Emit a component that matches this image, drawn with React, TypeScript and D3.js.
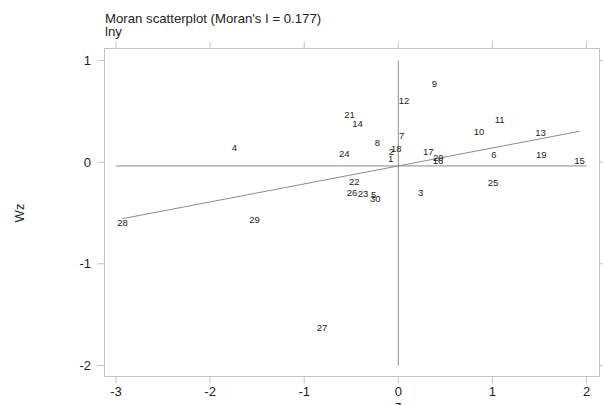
import React from "react";
import * as d3 from "d3";

const ids = [1, 2, 3, 4, 5, 6, 7, 8, 9, 10, 11, 12, 13, 14, 15, 16, 17, 18, 19, 20, 21, 22, 23, 24, 25, 26, 27, 28, 29, 30];
const zValues = [-0.082, -0.074, 0.237, -1.743, -0.262, 1.017, 0.035, -0.223, 0.383, 0.857, 1.077, 0.06, 1.512, -0.433, 1.927, 0.422, 0.319, -0.021, 1.52, 0.425, -0.518, -0.468, -0.375, -0.574, 1.006, -0.492, -0.811, -2.93, -1.527, -0.244];
const wzValues = [0.009, 0.074, -0.325, 0.117, -0.345, 0.042, 0.229, 0.163, 0.739, 0.271, 0.393, 0.576, 0.265, 0.351, -0.014, -0.017, 0.074, 0.108, 0.049, 0.019, 0.441, -0.224, -0.342, 0.058, -0.236, -0.325, -1.656, -0.624, -0.597, -0.384];
const xTicks = [-3, -2, -1, 0, 1, 2];
const yTicks = [-2, -1, 0, 1];
const moranI = 0.177;
const titleText = "Moran scatterplot (Moran's I = 0.177)";
const subtitleText = "lny";
const xLabel = "z";
const yLabel = "Wz";

export default function App() {
  const W = 603, H = 405;
  const frame = { left: 104.5, right: 599.5, top: 48.5, bottom: 376.5 };
  const x = d3.scaleLinear().domain([-3, 2]).range([116, 586.5]);
  const y = d3.scaleLinear().domain([-2, 1]).range([365.5, 60.5]);
  const meanZ = d3.mean(zValues) as number;
  const meanWz = d3.mean(wzValues) as number;
  const zMin = d3.min(zValues) as number;
  const zMax = d3.max(zValues) as number;
  const fit = (z: number) => meanWz + moranI * (z - meanZ);
  const lineGen = d3.line<number>().x((d) => x(d)).y((d) => y(fit(d)));
  const font = "'Liberation Sans', Arial, sans-serif";
  const frameColor = "#c4c4c4";
  const lineColor = "#8c8c8c";
  const textColor = "#222";
  return (
    <svg width={W} height={H} style={{ position: "absolute", left: 0, top: 0, background: "#fff" }} fontFamily={font}>
      <rect x={frame.left} y={frame.top} width={frame.right - frame.left} height={frame.bottom - frame.top} fill="none" stroke={frameColor} strokeWidth={1} />
      {xTicks.map((t) => (
        <g key={"xt" + t}>
          <line x1={x(t)} x2={x(t)} y1={frame.bottom} y2={frame.bottom + 7} stroke={frameColor} />
          <line x1={x(t)} x2={x(t)} y1={frame.top} y2={frame.top - 7} stroke={frameColor} />
          <text x={x(t)} y={396} textAnchor="middle" fontSize={13} fill={textColor}>{t}</text>
        </g>
      ))}
      {yTicks.map((t) => (
        <g key={"yt" + t}>
          <line x1={frame.left} x2={frame.left - 7} y1={y(t)} y2={y(t)} stroke={frameColor} />
          <line x1={frame.right} x2={frame.right + 7} y1={y(t)} y2={y(t)} stroke={frameColor} />
          <text x={91} y={y(t)} dy="0.35em" textAnchor="end" fontSize={13} fill={textColor}>{t}</text>
        </g>
      ))}
      <line x1={x(0)} x2={x(0)} y1={y(-2)} y2={y(1)} stroke={lineColor} strokeWidth={1} />
      <line x1={x(-3)} x2={x(2)} y1={y(meanWz)} y2={y(meanWz)} stroke={lineColor} strokeWidth={1} />
      <path d={lineGen([zMin, zMax]) as string} fill="none" stroke={lineColor} strokeWidth={1} />
      {ids.map((id, i) => (
        <text key={"p" + id} x={x(zValues[i])} y={y(wzValues[i]) - 3} dy="0.35em" textAnchor="middle" fontSize={9.5} fill={textColor}>{id}</text>
      ))}
      <text x={105} y={23} fontSize={13.2} fill={textColor}>{titleText}</text>
      <text x={105} y={36} fontSize={13.2} fill={textColor}>{subtitleText}</text>
      <text transform={`translate(24,${213}) rotate(-90)`} textAnchor="middle" fontSize={13} fill={textColor}>{yLabel}</text>
      <text x={x(0)} y={410} textAnchor="middle" fontSize={13} fill={textColor}>{xLabel}</text>
    </svg>
  );
}
